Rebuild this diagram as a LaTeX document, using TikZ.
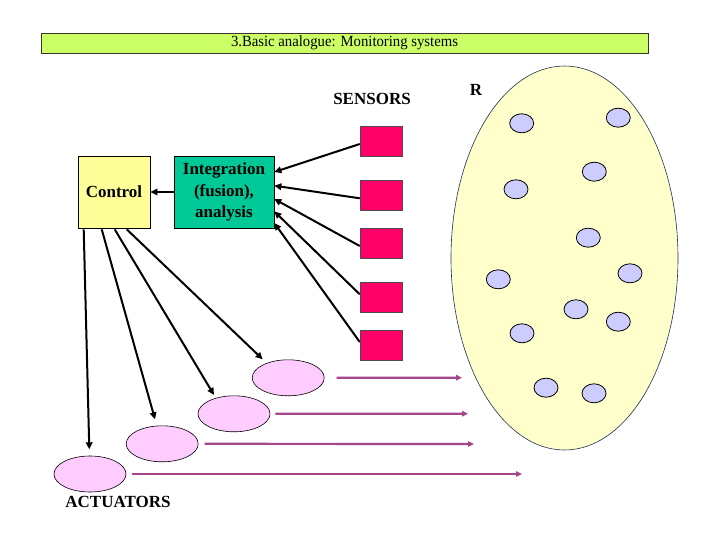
\documentclass[tikz,border=0pt]{standalone}
\usepackage{fontspec}
\setmainfont{Liberation Serif}
\newfontfamily\titlefont[FakeStretch=0.95]{Liberation Serif}
\usetikzlibrary{shapes.geometric,arrows.meta,calc}
\definecolor{titlebg}{HTML}{CCFF66}
\definecolor{ctrlbg}{HTML}{FFFF99}
\definecolor{intbg}{HTML}{00C896}
\definecolor{sensbg}{HTML}{FF0066}
\definecolor{actbg}{HTML}{FFCCFF}
\definecolor{regbg}{HTML}{FFFFCC}
\definecolor{dotbg}{HTML}{CCCCFF}
\definecolor{purp}{RGB}{165,70,140}
\definecolor{regline}{HTML}{1F3050}
\tikzset{
  titlebar/.style={draw=black!80!olive, line width=0.9pt, fill=titlebg, minimum width=607pt, minimum height=20pt, inner sep=0pt, font=\titlefont\fontsize{15.5}{17}\selectfont},
  boxbase/.style={draw=black, line width=0.6pt, inner sep=0pt, font=\fontsize{17}{21.5}\selectfont\bfseries, align=center},
  ctrlbox/.style={boxbase, fill=ctrlbg, minimum width=72pt, minimum height=72pt},
  intbox/.style={boxbase, fill=intbg, minimum width=100pt, minimum height=72pt},
  sensbox/.style={draw=black!70, line width=0.5pt, fill=sensbg, minimum width=42pt, minimum height=30pt, inner sep=0pt},
  actell/.style={ellipse, draw=black, line width=0.6pt, fill=actbg, minimum width=72pt, minimum height=36pt, inner sep=0pt},
  region/.style={ellipse, draw=regline, line width=0.6pt, fill=regbg, minimum width=227pt, minimum height=384pt, inner sep=0pt},
  dot/.style={ellipse, draw=black, line width=0.8pt, fill=dotbg, minimum width=24pt, minimum height=19pt, inner sep=0pt},
  lbl/.style={font=\fontsize{17}{20}\selectfont\bfseries, inner sep=0pt},
  blk/.style={line width=2pt, -{Triangle[length=7pt,width=6.5pt]}},
  prp/.style={draw=purp, line width=2.2pt, -{Triangle[length=6pt,width=5.5pt]}},
}
\begin{document}
\begin{tikzpicture}[x=1pt,y=-1pt]
\useasboundingbox[fill=white] (0,0) rectangle (720,540);

\node[titlebar] (title) at (344.5,43) {3.Basic analogue: Monitoring systems};

\node[region] (reg) at (564.5,258) {};
\node[dot] (d1) at (521.7,123.3) {};
\node[dot] (d2) at (618.3,117.7) {};
\node[dot] (d3) at (594.3,171.7) {};
\node[dot] (d4) at (516,189.3) {};
\node[dot] (d5) at (588.3,237.7) {};
\node[dot] (d6) at (498.3,279.3) {};
\node[dot] (d7) at (630,273.3) {};
\node[dot] (d8) at (576,309.3) {};
\node[dot] (d9) at (618.3,321.7) {};
\node[dot] (d10) at (522,333.3) {};
\node[dot] (d11) at (546,387.7) {};
\node[dot] (d12) at (594,393.3) {};

\node[lbl] (rl) at (476,90) {R};
\node[lbl] (sl) at (372,99) {SENSORS};
\node[lbl] (al) at (118,502) {ACTUATORS};

\node[ctrlbox] (ctrl) at (114,192) {Control};
\node[intbox] (int) at (224,192) {Integration\\(fusion),\\analysis};

\node[sensbox] (s1) at (381,141) {};
\node[sensbox] (s2) at (381,195.3) {};
\node[sensbox] (s3) at (381,243) {};
\node[sensbox] (s4) at (381,297.3) {};
\node[sensbox] (s5) at (381,345) {};

\node[actell] (a1) at (90,474) {};
\node[actell] (a2) at (162.2,443.8) {};
\node[actell] (a3) at (234,413.8) {};
\node[actell] (a4) at (288.2,377.8) {};

% sensors -> integration
\draw[blk] ($(s1.west)+(0,3)$) -- ($(int.north east)+(0,16.3)$);
\draw[blk] ($(s2.west)+(0,3)$) -- ($(int.north east)+(0,30)$);
\draw[blk] ($(s3.west)+(0,3)$) -- ($(int.north east)+(0,43.3)$);
\draw[blk] ($(s4.west)+(0,-3)$) -- ($(int.north east)+(0,55.7)$);
\draw[blk] ($(s5.west)+(0,-3)$) -- ($(int.north east)+(0,67.3)$);

% integration -> control
\draw[blk] (int.west) -- (ctrl.east);

% control -> actuators
\coordinate (t1) at (89.3,449.3);
\coordinate (t2) at (155,419.3);
\coordinate (t3) at (214,395);
\coordinate (t4) at (262.7,359.3);
\draw[blk] ($(ctrl.south west)+(6,1)$) -- (t1);
\draw[blk] ($(ctrl.south west)+(24,1)$) -- (t2);
\draw[blk] ($(ctrl.south west)+(37,1)$) -- (t3);
\draw[blk] ($(ctrl.south west)+(49,1)$) -- (t4);

% actuators -> region
\coordinate (e1) at (522,474);
\coordinate (e2) at (474,444);
\coordinate (e3) at (468,413.7);
\coordinate (e4) at (462,377.7);
\draw[prp] ($(a1.east)+(6,0)$) -- (e1);
\draw[prp] ($(a2.east)+(6,0)$) -- (e2);
\draw[prp] ($(a3.east)+(5,0)$) -- (e3);
\draw[prp] ($(a4.east)+(12,0)$) -- (e4);
\end{tikzpicture}
\end{document}
